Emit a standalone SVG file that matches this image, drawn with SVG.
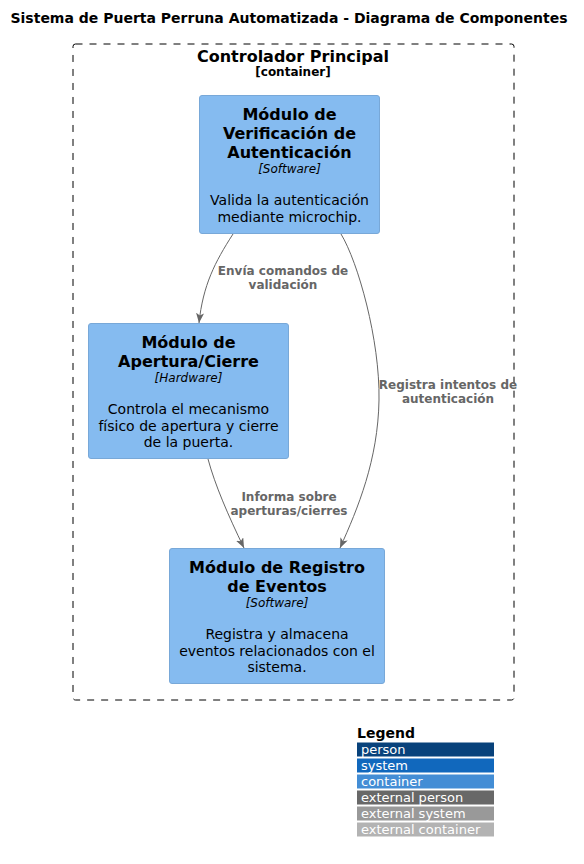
<svg xmlns="http://www.w3.org/2000/svg" width="584" height="864" viewBox="0 0 584 864">
<style>
text{font-family:"DejaVu Sans","Noto Sans",sans-serif;}
.title{font-size:14px;font-weight:bold;fill:#000;text-anchor:middle;}
.bt{font-size:16px;font-weight:bold;fill:#000;text-anchor:middle;}
.bs{font-size:12px;font-weight:bold;fill:#000;text-anchor:middle;}
.nt{font-size:16px;font-weight:bold;fill:#000;text-anchor:middle;}
.tech{font-size:12px;font-style:italic;fill:#000;text-anchor:middle;}
.desc{font-size:14px;fill:#000;text-anchor:middle;}
.node{fill:#85BBF0;stroke:#78A8D8;stroke-width:1;}
.edge{fill:none;stroke:#666666;stroke-width:1;}
.el{font-size:12px;font-weight:bold;fill:#666666;text-anchor:middle;}
.lg{font-size:14px;font-weight:bold;fill:#000;}
.li{font-size:13px;fill:#FFFFFF;}
</style>
<defs>
<marker id="arr" viewBox="0 0 10 8" refX="10" refY="4" markerWidth="10" markerHeight="8" markerUnits="userSpaceOnUse" orient="auto">
<path d="M0,0 L10,4 L0,8 L2.5,4 Z" fill="#666666"/>
</marker>
</defs>
<rect width="584" height="864" fill="#FFFFFF"/>
<text class="title" x="289" y="23">Sistema de Puerta Perruna Automatizada - Diagrama de Componentes</text>

<g id="boundary">
<rect x="73" y="44" width="441" height="656" rx="2.5" fill="none" stroke="#000" stroke-width="1" stroke-dasharray="7,7"/>
<text class="bt" x="293" y="62">Controlador Principal</text>
<text class="bs" x="293" y="76">[container]</text>
</g>

<g id="connectors">
<path class="edge" d="M233,234 C215,262 203,285 199,323" marker-end="url(#arr)"/>
<text class="el" x="283" y="275">Envía comandos de</text>
<text class="el" x="283" y="289">validación</text>
<path class="edge" d="M341,234 C358,262 380,340 379,400 C378,460 358,508 340,548" marker-end="url(#arr)"/>
<text class="el" x="448" y="389">Registra intentos de</text>
<text class="el" x="448" y="403">autenticación</text>
<path class="edge" d="M208,459 C215,485 228,515 244,548" marker-end="url(#arr)"/>
<text class="el" x="289" y="501">Informa sobre</text>
<text class="el" x="289" y="515">aperturas/cierres</text>
</g>

<g id="verificacion">
<rect class="node" x="199.5" y="95.5" width="180" height="138" rx="2.5"/>
<text class="nt" x="289.5" y="120">Módulo de</text>
<text class="nt" x="289.5" y="139">Verificación de</text>
<text class="nt" x="289.5" y="158">Autenticación</text>
<text class="tech" x="289.5" y="173">[Software]</text>
<text class="desc" x="289.5" y="205">Valida la autenticación</text>
<text class="desc" x="289.5" y="221.5">mediante microchip.</text>
</g>

<g id="apertura">
<rect class="node" x="88.5" y="323.5" width="200" height="135" rx="2.5"/>
<text class="nt" x="188.5" y="348">Módulo de</text>
<text class="nt" x="188.5" y="367">Apertura/Cierre</text>
<text class="tech" x="188.5" y="382">[Hardware]</text>
<text class="desc" x="188.5" y="414">Controla el mecanismo</text>
<text class="desc" x="188.5" y="430.5">físico de apertura y cierre</text>
<text class="desc" x="188.5" y="447">de la puerta.</text>
</g>

<g id="registro">
<rect class="node" x="169.5" y="548.5" width="215" height="135" rx="2.5"/>
<text class="nt" x="277" y="573">Módulo de Registro</text>
<text class="nt" x="277" y="592">de Eventos</text>
<text class="tech" x="277" y="607">[Software]</text>
<text class="desc" x="277" y="639">Registra y almacena</text>
<text class="desc" x="277" y="655.5">eventos relacionados con el</text>
<text class="desc" x="277" y="672">sistema.</text>
</g>

<g id="legend">
<text class="lg" x="357" y="738">Legend</text>
<rect x="357" y="742.5" width="137" height="14" fill="#08427B"/>
<text class="li" x="361" y="754">person</text>
<rect x="357" y="758.5" width="137" height="14" fill="#1168BD"/>
<text class="li" x="361" y="770">system</text>
<rect x="357" y="774.5" width="137" height="14" fill="#438DD5"/>
<text class="li" x="361" y="786">container</text>
<rect x="357" y="790.5" width="137" height="14" fill="#686868"/>
<text class="li" x="361" y="802">external person</text>
<rect x="357" y="806.5" width="137" height="14" fill="#999999"/>
<text class="li" x="361" y="818">external system</text>
<rect x="357" y="822.5" width="137" height="14" fill="#B3B3B3"/>
<text class="li" x="361" y="834">external container</text>
</g>
</svg>
